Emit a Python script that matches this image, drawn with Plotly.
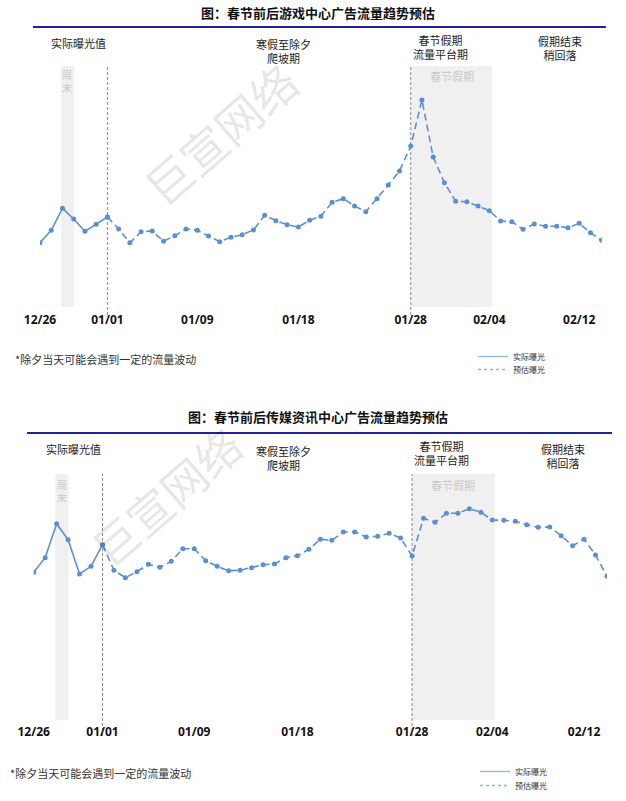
import pandas as pd
import plotly.graph_objects as go

# ---------------- data ----------------
dates = pd.date_range("2024-12-26", "2025-02-14", freq="D")

tick_dates = ["2024-12-26", "2025-01-01", "2025-01-09", "2025-01-18",
              "2025-01-28", "2025-02-04", "2025-02-12"]
tick_text = ["12/26", "01/01", "01/09", "01/18", "01/28", "02/04", "02/12"]

# 游戏中心 (index values)
game_actual = [64.3, 76.7, 98.7, 88, 75.7, 82.7, 90]
game_forecast = [90, 78, 64.3, 75.3, 76, 65.7, 71.3, 78, 76.7, 71, 65.3, 69.7,
                 72.3, 77, 91.7, 86.3, 82.3, 80, 86.7, 90.7, 104.7, 108.3, 101,
                 95.3, 108.3, 122, 136, 161, 207, 150, 124.3, 105.7, 105.3, 101,
                 96.3, 86, 85.3, 77.7, 83, 80.7, 80.7, 79.3, 83.7, 74.3, 66.7]

# 传媒资讯中心
media_actual = [147.7, 162.3, 196.3, 180.3, 146, 153.7, 175.3]
media_forecast = [175.3, 149.7, 142.3, 148.3, 155.7, 152.7, 158.7, 171.3, 171.3,
                  159.3, 153.7, 149.3, 149.7, 152.3, 155.3, 156, 162.3, 164.3,
                  170.7, 180.7, 179.7, 188, 188, 183, 183.7, 186.7, 182, 164,
                  201.7, 197.7, 206.7, 206.7, 211.3, 207.7, 200, 199.7, 198.7,
                  195.3, 192.7, 193, 184.3, 174.3, 180.7, 165, 143.7]

titles = ["图：春节前后游戏中心广告流量趋势预估", "图：春节前后传媒资讯中心广告流量趋势预估"]
phase_labels = ["实际曝光值", "寒假至除夕<br>爬坡期", "春节假期<br>流量平台期", "假期结束<br>稍回落"]
series_names = ["实际曝光", "预估曝光"]
footnote = "*除夕当天可能会遇到一定的流量波动"
watermark = "巨宣网络"

weekend = ("2024-12-27 21:00", "2024-12-29 01:00")
holiday = ("2025-01-28", "2025-02-04 05:00")
split_lines = ["2025-01-01", "2025-01-28"]

# ---------------- style ----------------
W, H = 626, 801
LINE = "#5B8FD4"
LEG_LINE = "#8DB6E6"
NAVY = "#22229A"
SHADE = "#F0F0F0"
FAINT = "#C9C9C9"
CJK = "Noto Sans CJK SC"


def px(x):
    return x / W


def py(y):
    return 1 - y / H


fig = go.Figure()

panels = [
    dict(actual=game_actual, forecast=game_forecast, xa="x", ya="y",
         legends=("legend", "legend2"),
         xdom=[px(40), px(601.7)], ydom=[py(307), py(66)], yrange=[0, 241],
         title_y=12, navy=(33, 606, 27), vline_bottom=315,
         phase=[(78, 43), (283, 51), (440, 47), (560, 48)],
         weekend_txt=(67, 81), holiday_txt=(452, 76), foot_x=13, foot_y=359,
         wm=(220, 133), wm_size=46, leg=(473, 342, 355), standoff=4),
    dict(actual=media_actual, forecast=media_forecast, xa="x2", ya="y2",
         legends=("legend3", "legend4"),
         xdom=[px(33.7), px(607)], ydom=[py(720), py(474)], yrange=[0, 246],
         title_y=416, navy=(27, 612, 433), vline_bottom=736,
         phase=[(73, 449), (283, 458), (441, 453), (563, 456)],
         weekend_txt=(62, 491), holiday_txt=(453, 485), foot_x=8, foot_y=773,
         wm=(166, 496), wm_size=45, leg=(475, 757, 771), standoff=3),
]

layout = {}
shapes = []
annotations = []

for i, p in enumerate(panels):
    n_act = len(p["actual"])
    fig.add_trace(go.Scatter(
        x=dates[:n_act], y=p["actual"], mode="lines+markers",
        line=dict(color=LINE, width=1.6), marker=dict(color=LINE, size=5),
        xaxis=p["xa"], yaxis=p["ya"], showlegend=False, name=series_names[0]))
    fig.add_trace(go.Scatter(
        x=dates[n_act - 1:], y=p["forecast"], mode="lines+markers",
        line=dict(color=LINE, width=1.6, dash="7px,4px"), marker=dict(color=LINE, size=5),
        xaxis=p["xa"], yaxis=p["ya"], showlegend=False, name=series_names[1]))
    fig.add_trace(go.Scatter(
        x=[None], y=[None], mode="lines", name=series_names[0],
        line=dict(color=LEG_LINE, width=1.3), xaxis=p["xa"], yaxis=p["ya"],
        legend=p["legends"][0]))
    fig.add_trace(go.Scatter(
        x=[None], y=[None], mode="lines", name=series_names[1],
        line=dict(color=LEG_LINE, width=1.3, dash="3px,3px"), xaxis=p["xa"], yaxis=p["ya"],
        legend=p["legends"][1]))

    xkey = "xaxis" if i == 0 else "xaxis2"
    ykey = "yaxis" if i == 0 else "yaxis2"
    layout[xkey] = dict(
        domain=p["xdom"], range=[dates[0], dates[-1]], anchor=p["ya"],
        tickmode="array", tickvals=tick_dates, ticktext=tick_text,
        tickfont=dict(family="Noto Sans", size=12, color="#111", weight="bold"),
        showgrid=False, zeroline=False, showline=False, ticks="",
        ticklabelstandoff=p["standoff"], automargin=False)
    layout[ykey] = dict(
        domain=p["ydom"], range=p["yrange"], anchor=p["xa"], visible=False,
        showgrid=False, zeroline=False, automargin=False)

    lx, ly1, ly2 = p["leg"]
    leg_common = dict(x=px(lx), xanchor="left", yanchor="top", bgcolor="rgba(0,0,0,0)",
                      font=dict(family=CJK, size=8, color="#333"), itemwidth=30)
    layout[p["legends"][0]] = dict(y=py(ly1), **leg_common)
    layout[p["legends"][1]] = dict(y=py(ly2), **leg_common)

    xref = p["xa"]
    ybot, ytop = p["ydom"]
    shapes.append(dict(type="rect", xref=xref, yref="paper", x0=weekend[0], x1=weekend[1],
                       y0=ybot, y1=ytop, fillcolor=SHADE, line=dict(width=0), layer="below"))
    shapes.append(dict(type="rect", xref=xref, yref="paper", x0=holiday[0], x1=holiday[1],
                       y0=ybot, y1=ytop, fillcolor=SHADE, line=dict(width=0), layer="below"))
    for d in split_lines:
        shapes.append(dict(type="line", xref=xref, yref="paper", x0=d, x1=d,
                           y0=py(p["vline_bottom"]), y1=ytop,
                           line=dict(color="#8A8A8A", width=1, dash="3px,2px"), layer="below"))
    x0n, x1n, yn = p["navy"]
    shapes.append(dict(type="line", xref="paper", yref="paper", x0=px(x0n), x1=px(x1n),
                       y0=py(yn), y1=py(yn), line=dict(color=NAVY, width=2)))

    annotations.append(dict(text=titles[i], xref="paper", yref="paper", x=px(318),
                            y=py(p["title_y"]), xanchor="center", yanchor="middle",
                            showarrow=False,
                            font=dict(family=CJK, size=13, color="#111", weight="bold")))
    for txt, (ax, ay) in zip(phase_labels, p["phase"]):
        annotations.append(dict(text=txt, xref="paper", yref="paper", x=px(ax), y=py(ay),
                                xanchor="center", yanchor="middle", showarrow=False,
                                font=dict(family=CJK, size=11, color="#222")))
    wx, wy = p["weekend_txt"]
    annotations.append(dict(text="周<br>末", xref="paper", yref="paper", x=px(wx), y=py(wy),
                            xanchor="center", yanchor="middle", showarrow=False,
                            font=dict(family=CJK, size=10, color=FAINT)))
    hx, hy = p["holiday_txt"]
    annotations.append(dict(text="春节假期", xref="paper", yref="paper", x=px(hx), y=py(hy),
                            xanchor="center", yanchor="middle", showarrow=False,
                            font=dict(family=CJK, size=11, color=FAINT)))
    annotations.append(dict(text=footnote, xref="paper", yref="paper", x=px(p["foot_x"]),
                            y=py(p["foot_y"]), xanchor="left", yanchor="middle",
                            showarrow=False, font=dict(family=CJK, size=11, color="#333")))
    mx, my = p["wm"]
    annotations.append(dict(text=watermark, xref="paper", yref="paper", x=px(mx), y=py(my),
                            xanchor="center", yanchor="middle", showarrow=False,
                            textangle=-41,
                            font=dict(family=CJK, size=p["wm_size"], color="rgba(0,0,0,0.11)")))

fig.update_layout(
    template="none",
    width=W, height=H,
    margin=dict(l=0, r=0, t=0, b=0, pad=0, autoexpand=False),
    paper_bgcolor="white", plot_bgcolor="rgba(0,0,0,0)",
    showlegend=True,
    shapes=shapes, annotations=annotations,
    **layout,
)

# remove the browser's default page margin so the 626x801 figure fills the window
fig.write_html("out.html", config={"displayModeBar": False},
               post_script="document.body.style.margin='0px';")
